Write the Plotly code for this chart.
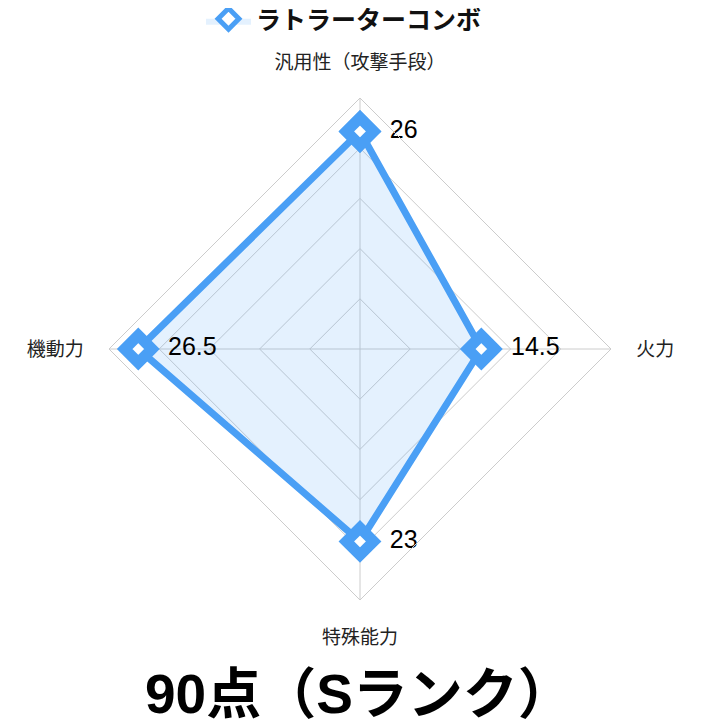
import plotly.graph_objects as go

categories = ["汎用性（攻撃手段）", "火力", "特殊能力", "機動力"]
values = [26, 14.5, 23, 26.5]
value_labels = ["26", "14.5", "23", "26.5"]
series_name = "ラトラーターコンボ"
title_text = "90点（Sランク）"
radial_max = 30
radial_ticks = [0, 6, 12, 18, 24, 30]

FONT = "Liberation Sans, Helvetica, Arial, Noto Sans CJK JP, sans-serif"
BLUE = "#4a9ff5"
FILL = "rgba(74,159,245,0.15)"

fig = go.Figure()
# main series (line, fill, markers)
fig.add_trace(go.Scatterpolar(
    r=values + [values[0]],
    theta=categories + [categories[0]],
    name=series_name,
    mode="lines+markers",
    fill="toself",
    fillcolor=FILL,
    line=dict(color=BLUE, width=7),
    marker=dict(symbol="diamond", size=21, color="white",
                line=dict(color=BLUE, width=11)),
    showlegend=False,
    cliponaxis=False,
))
# value labels, offset by an invisible larger marker
fig.add_trace(go.Scatterpolar(
    r=values,
    theta=categories,
    text=value_labels,
    mode="markers+text",
    marker=dict(size=46, opacity=0),
    textposition="middle right",
    textfont=dict(family=FONT, size=25, color="black"),
    showlegend=False,
    hoverinfo="skip",
    cliponaxis=False,
))
# legend entry
fig.add_trace(go.Scatterpolar(
    r=[None], theta=[categories[0]],
    name="<b>" + series_name + "</b>",
    mode="markers",
    fill="toself",
    fillcolor=FILL,
    marker=dict(symbol="diamond", size=16, color="white",
                line=dict(color=BLUE, width=7)),
    showlegend=True,
))

dx = -8 / 720
dy = 7 / 728
fig.update_layout(
    width=720, height=728,
    margin=dict(l=0, r=0, t=0, b=0, autoexpand=False),
    paper_bgcolor="white",
    plot_bgcolor="white",
    font=dict(family=FONT, color="#222"),
    showlegend=True,
    legend=dict(orientation="h", x=336/720, xanchor="center", y=1-11/728, yanchor="middle",
                font=dict(family=FONT, size=25, color="#111"),
                itemsizing="trace", itemwidth=45,
                borderwidth=0),
    polar=dict(
        domain=dict(x=[109/720 + dx, 611/720 + dx], y=[1-599/728 + dy, 1-97/728 + dy]),
        bgcolor="white",
        gridshape="linear",
        radialaxis=dict(range=[0, radial_max], tickvals=radial_ticks,
                        showticklabels=False, ticks="", showline=False,
                        gridcolor="#cccccc", gridwidth=1),
        angularaxis=dict(rotation=90, direction="clockwise",
                         gridcolor="#cccccc", linecolor="#cccccc", showline=True,
                         ticks="outside", ticklen=21, tickcolor="rgba(0,0,0,0)",
                         tickfont=dict(family=FONT, size=19, color="#222")),
    ),
    annotations=[dict(text="<b>" + title_text + "</b>", x=351/720, y=1-686/728,
                      xref="paper", yref="paper", xanchor="center", yanchor="middle",
                      showarrow=False, font=dict(family=FONT, size=55, color="black"))],
)

fig.write_html("out.html")
